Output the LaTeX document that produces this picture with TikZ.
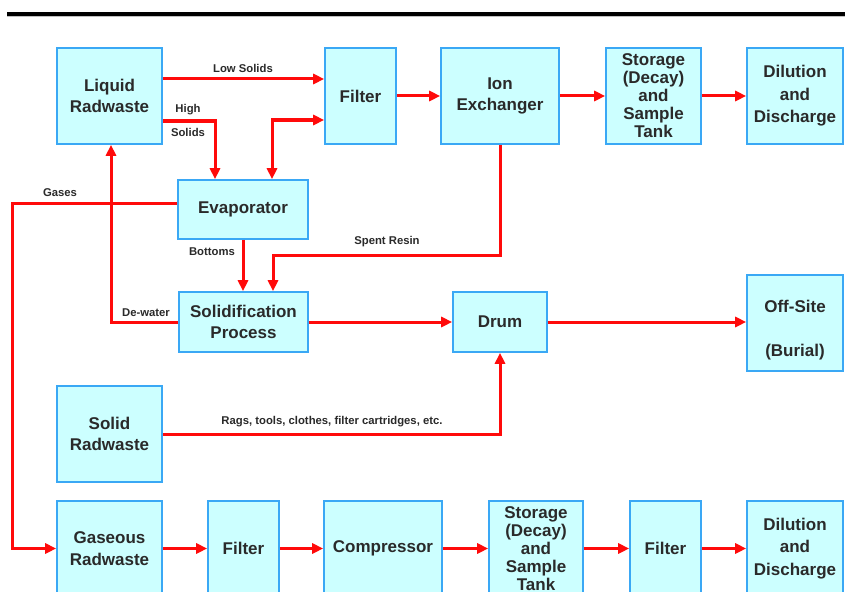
\documentclass[tikz,border=0pt]{standalone}
\usepackage{fontspec}
\setmainfont{Liberation Sans}
\usetikzlibrary{arrows.meta,calc}
\definecolor{boxfill}{HTML}{CCFFFF}
\definecolor{boxline}{HTML}{3AA8F5}
\definecolor{flowred}{HTML}{FF0A0A}
\definecolor{txt}{HTML}{2A2A2A}
\tikzset{
  box/.style={draw=boxline, line width=1.6pt, fill=boxfill, align=center, inner sep=0pt,
    text=txt, font=\bfseries\fontsize{17}{21.5}\selectfont},
  arr/.style={draw=flowred, line width=3pt, -{Triangle[length=11pt,width=10pt]}},
  arrtwo/.style={draw=flowred, line width=3pt, {Triangle[length=11pt,width=10pt]}-{Triangle[length=11pt,width=10pt]}},
  lbl/.style={text=txt, font=\bfseries\fontsize{11.3}{13}\selectfont, inner sep=0pt}
}
\begin{document}
\begin{tikzpicture}[x=1pt,y=-1pt]
\useasboundingbox (0,0) rectangle (845,591);
\clip (0,0) rectangle (845,591);
\fill[white] (0,0) rectangle (845,591);
% top rule
\draw[line width=3.2pt, black] (7,14) -- (845,14);
\draw[line width=0.8pt, black!25] (7,16.3) -- (845,16.3);
% top row
\node[box, minimum width=105pt, minimum height=96pt] (liq) at (109.5,96) {Liquid\\Radwaste};
\node[box, minimum width=71pt, minimum height=96pt] (filt1) at (360.5,96) {Filter};
\node[box, minimum width=118pt, minimum height=96pt] (ion) at (500,96) {Ion\\Exchanger};
\node[box, minimum width=95pt, minimum height=96pt, font=\bfseries\fontsize{17}{18}\selectfont] (stor1) at (653.5,96) {Storage\\(Decay)\\and\\Sample\\Tank};
\node[box, minimum width=96pt, minimum height=96pt, font=\bfseries\fontsize{17}{22.5}\selectfont] (dil1) at (795,96) {Dilution\\and\\Discharge};
% middle
\node[box, minimum width=130pt, minimum height=59pt] (evap) at (243,209.5) {Evaporator};
\node[box, minimum width=129pt, minimum height=60pt] (solid) at (243.5,322) {Solidification\\Process};
\node[box, minimum width=94pt, minimum height=60pt] (drum) at (500,322) {Drum};
\node[box, minimum width=96pt, minimum height=96pt] (off) at (795,323) {\raisebox{-33pt}[0pt][0pt]{\shortstack{Off-Site\\[28pt](Burial)}}};
\node[box, minimum width=105pt, minimum height=96pt] (srad) at (109.5,434) {Solid\\Radwaste};
% bottom row
\node[box, minimum width=105pt, minimum height=95pt] (gas) at (109.5,548.5) {Gaseous\\Radwaste};
\node[box, minimum width=71pt, minimum height=95pt] (filt2) at (243.5,548.5) {Filter};
\node[box, minimum width=118pt, minimum height=95pt] (comp) at (383,548.5) {Compressor};
\node[box, minimum width=94pt, minimum height=95pt, font=\bfseries\fontsize{17}{18}\selectfont] (stor2) at (536,548.5) {Storage\\(Decay)\\and\\Sample\\Tank};
\node[box, minimum width=71pt, minimum height=95pt] (filt3) at (665.5,548.5) {Filter};
\node[box, minimum width=96pt, minimum height=95pt, font=\bfseries\fontsize{17}{22.5}\selectfont] (dil2) at (795,548.5) {Dilution\\and\\Discharge};
% connectors
\coordinate (gc) at (12,203);
\draw[arr] ([yshift=6.5pt]evap.west) -- ([yshift=6.5pt]evap.west -| gc) |- (gas.west);
\draw[arr] (solid.west) -| ([xshift=1.5pt]liq.south);
\draw[arr] ([yshift=17pt]liq.east) -- ([yshift=17pt]filt1.west);
\draw[arr] ([yshift=-25pt]liq.east) -| ([xshift=-28pt]evap.north);
\draw[arrtwo] ([xshift=29pt]evap.north) |- ([yshift=-24pt]filt1.west);
\draw[arr] (filt1.east) -- (ion.west);
\draw[arr] (ion.east) -- (stor1.west);
\draw[arr] (stor1.east) -- (dil1.west);
\draw[arr] (ion.south) -- ++(0,111) -| ([xshift=29.5pt]solid.north);
\draw[arr] (evap.south) -- (evap.south |- solid.north);
\draw[arr] (solid.east) -- (drum.west);
\draw[arr] (drum.east) -- (drum.east -| off.west);
\draw[arr] (srad.east) -| (drum.south);
\draw[arr] (gas.east) -- (filt2.west);
\draw[arr] (filt2.east) -- (comp.west);
\draw[arr] (comp.east) -- (stor2.west);
\draw[arr] (stor2.east) -- (filt3.west);
\draw[arr] (filt3.east) -- (dil2.west);
% labels
\node[lbl] (l1) at (243,68) {Low Solids};
\node[lbl] (l2) at (188,110) {High};
\node[lbl] (l3) at (188,132.5) {Solids};
\node[lbl] (l4) at (60,192.5) {Gases};
\node[lbl] (l5) at (212,252) {Bottoms};
\node[lbl] (l6) at (146,312.5) {De-water};
\node[lbl] (l7) at (387,242) {Spent Resin};
\node[lbl] (l8) at (332,421.5) {Rags, tools, clothes, filter cartridges, etc.};
\end{tikzpicture}
\end{document}
